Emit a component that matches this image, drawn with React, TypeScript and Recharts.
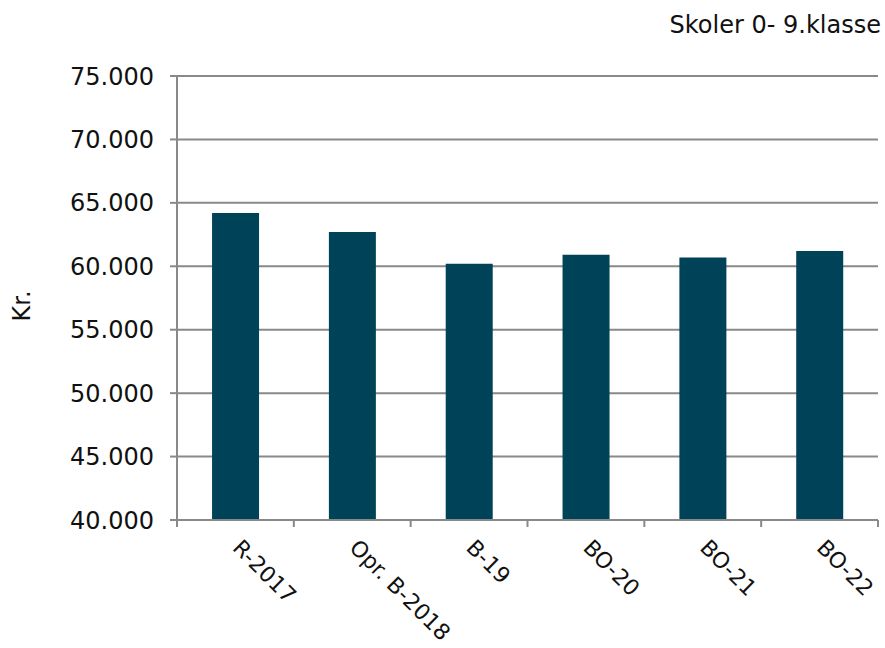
import React from 'react';
import { BarChart, Bar, XAxis, YAxis, CartesianGrid } from 'recharts';

// ── Data ─────────────────────────────────────────────────────────────────────
const categories = ['R-2017', 'Opr. B-2018', 'B-19', 'BO-20', 'BO-21', 'BO-22'];
const values = [64200, 62700, 60200, 60900, 60700, 61200];
const yTicks = [40000, 45000, 50000, 55000, 60000, 65000, 70000, 75000];

const data = categories.map((name, i) => ({ name, value: values[i] }));

const FONT = 'DejaVu Sans, Verdana, sans-serif';
const GRID = '#898989';
const BAR = '#004359';

const fmt = (v: number) => String(v).replace(/\B(?=(\d{3})+(?!\d))/g, '.');

// category tick: rotated label + tick marks on the band edges
const XTick = ({ x, y, payload, index, visibleTicksCount }: any) => {
  const half = payload?.offset || 58.4;
  const isLast = index === visibleTicksCount - 1;
  return (
    <g>
      <line x1={x - half} y1={y - 8} x2={x - half} y2={y - 1} stroke={GRID} strokeWidth={2} />
      {isLast && <line x1={x + half} y1={y - 8} x2={x + half} y2={y - 1} stroke={GRID} strokeWidth={2} />}
      <text
        transform={`translate(${x - 4},${y + 21}) rotate(45)`}
        textAnchor="start"
        fontSize={22}
        fontFamily={FONT}
        fill="#111"
      >
        {payload.value}
      </text>
    </g>
  );
};

export default function App() {
  return (
    <div style={{ position: 'absolute', left: 0, top: 0, width: 885, height: 648, background: '#fff' }}>
      <div
        style={{
          position: 'absolute',
          right: 4,
          top: 11,
          fontFamily: FONT,
          fontSize: 24,
          color: '#111',
          whiteSpace: 'nowrap',
        }}
      >
        Skoler 0- 9.klasse
      </div>
      <BarChart
        width={885}
        height={648}
        data={data}
        margin={{ top: 76, right: 7, bottom: 0, left: 0 }}
        barCategoryGap="30%"
      >
        <CartesianGrid vertical={false} stroke={GRID} strokeWidth={2} />
        <XAxis
          dataKey="name"
          height={128}
          interval={0}
          tickLine={false}
          axisLine={{ stroke: GRID, strokeWidth: 2 }}
          tickSize={8}
          tickMargin={0}
          tick={<XTick />}
        />
        <YAxis
          width={177}
          domain={[40000, 75000]}
          ticks={yTicks}
          interval={0}
          allowDataOverflow
          tickFormatter={fmt}
          axisLine={{ stroke: GRID, strokeWidth: 2 }}
          tickLine={{ stroke: GRID, strokeWidth: 2 }}
          tickSize={7}
          tickMargin={16}
          tick={{ fontSize: 24, fontFamily: FONT, fill: '#111' }}
          label={({ viewBox }: any) => {
            const cy = viewBox.y + viewBox.height / 2 + 8;
            return (
              <text
                x={22}
                y={cy}
                transform={`rotate(-90, 22, ${cy})`}
                textAnchor="middle"
                dominantBaseline="central"
                fontSize={24}
                fontFamily={FONT}
                fill="#111"
              >
                Kr.
              </text>
            );
          }}
        />
        <Bar dataKey="value" fill={BAR} isAnimationActive={false} />
      </BarChart>
    </div>
  );
}
